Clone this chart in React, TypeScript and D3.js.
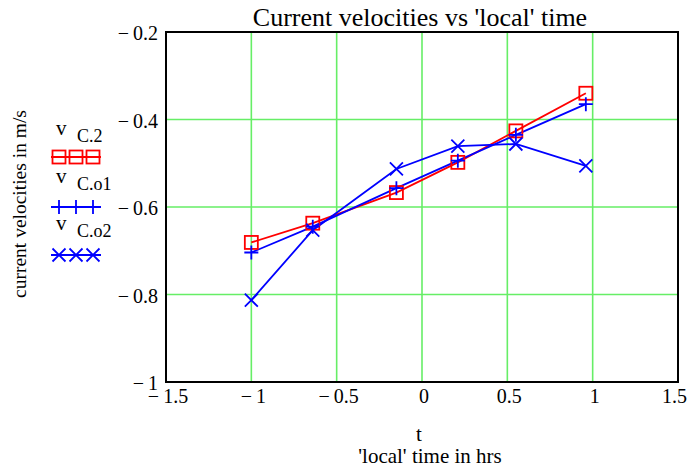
import React from "react";
import * as d3 from "d3";

const tHours = [-1.0, -0.64, -0.15, 0.21, 0.55, 0.96];
const vC2 = [-0.681, -0.637, -0.567, -0.498, -0.426, -0.34];
const vCo1 = [-0.704, -0.645, -0.557, -0.494, -0.435, -0.365];
const vCo2 = [-0.813, -0.653, -0.513, -0.461, -0.456, -0.506];
const xTicks = [-1.5, -1, -0.5, 0, 0.5, 1, 1.5];
const yTicks = [-1, -0.8, -0.6, -0.4, -0.2];

const W = 688, H = 470;
const L = 166, R = 678, T = 32, B = 382;

const fmt = (v: number) => (v < 0 ? "\u2212\u2009" + String(Math.abs(v)) : String(v));

export default function App() {
  const x = d3.scaleLinear().domain([-1.5, 1.5]).range([L, R]);
  const y = d3.scaleLinear().domain([-1, -0.2]).range([B, T]);
  const line = d3.line<number>().x((_, i) => x(tHours[i])).y((d) => y(d));
  const font = "'Liberation Serif', 'Times New Roman', serif";

  const square = (cx: number, cy: number, k: string) => (
    <rect key={k} x={cx - 6.5} y={cy - 6.5} width={13} height={13} fill="none" stroke="#ff0000" strokeWidth={1.8} />
  );
  const plus = (cx: number, cy: number, k: string) => (
    <path key={k} d={`M${cx - 7},${cy}H${cx + 7}M${cx},${cy - 7}V${cy + 7}`} stroke="#0000ff" strokeWidth={1.8} />
  );
  const cross = (cx: number, cy: number, k: string) => (
    <path key={k} d={`M${cx - 6.5},${cy - 6.5}L${cx + 6.5},${cy + 6.5}M${cx - 6.5},${cy + 6.5}L${cx + 6.5},${cy - 6.5}`} stroke="#0000ff" strokeWidth={1.8} />
  );

  const legend = [
    { sub: "C.2", y0: 135, ly: 157, color: "#ff0000", m: square },
    { sub: "C.o1", y0: 183, ly: 207, color: "#0000ff", m: plus },
    { sub: "C.o2", y0: 230, ly: 255, color: "#0000ff", m: cross },
  ];

  return (
    <svg width={W} height={H} style={{ position: "absolute", left: 0, top: 0, background: "#fff" }} fontFamily={font}>
      <rect width={W} height={H} fill="#fff" />
      {/* grid */}
      {xTicks.slice(1, -1).map((t) => (
        <line key={"gx" + t} x1={x(t)} x2={x(t)} y1={T} y2={B} stroke="#66ee66" strokeWidth={1.6} />
      ))}
      {yTicks.slice(1, -1).map((t) => (
        <line key={"gy" + t} x1={L} x2={R} y1={y(t)} y2={y(t)} stroke="#66ee66" strokeWidth={1.6} />
      ))}
      <rect x={L} y={T} width={R - L} height={B - T} fill="none" stroke="#000" strokeWidth={2} />
      {/* ticks */}
      {xTicks.map((t, i) => {
        const last = i === xTicks.length - 1;
        return (
          <text key={"xt" + t} x={last ? W - 1 : x(t) + 2} y={403} fontSize={20} textAnchor={last ? "end" : "middle"}>{fmt(t)}</text>
        );
      })}
      {yTicks.map((t) => (
        <text key={"yt" + t} x={158} y={y(t) + 8} fontSize={20} textAnchor="end">{fmt(t)}</text>
      ))}
      {/* series */}
      <path d={line(vC2) || ""} fill="none" stroke="#ff0000" strokeWidth={1.8} />
      <path d={line(vCo1) || ""} fill="none" stroke="#0000ff" strokeWidth={1.8} />
      <path d={line(vCo2) || ""} fill="none" stroke="#0000ff" strokeWidth={1.8} />
      {vC2.map((v, i) => square(x(tHours[i]), y(v), "s" + i))}
      {vCo1.map((v, i) => plus(x(tHours[i]), y(v), "p" + i))}
      {vCo2.map((v, i) => cross(x(tHours[i]), y(v), "c" + i))}
      {/* title & labels */}
      <text x={420} y={26} fontSize={26} textAnchor="middle">Current velocities vs 'local' time</text>
      <text x={419} y={441} fontSize={21} textAnchor="middle">t</text>
      <text x={430} y={463} fontSize={21} textAnchor="middle">'local' time in hrs</text>
      <text transform="translate(26,204) rotate(-90)" fontSize={19.5} textAnchor="middle">current velocities in m/s</text>
      {/* legend */}
      {legend.map((g, gi) => (
        <g key={"lg" + gi}>
          <text x={56} y={g.y0} fontSize={21}>v</text>
          <text x={77} y={g.y0 + 7} fontSize={18}>{g.sub}</text>
          <line x1={51} x2={101} y1={g.ly} y2={g.ly} stroke={g.color} strokeWidth={1.8} />
          {[59, 76, 93].map((cx, k) => g.m(cx, g.ly, "lm" + gi + k))}
        </g>
      ))}
    </svg>
  );
}
